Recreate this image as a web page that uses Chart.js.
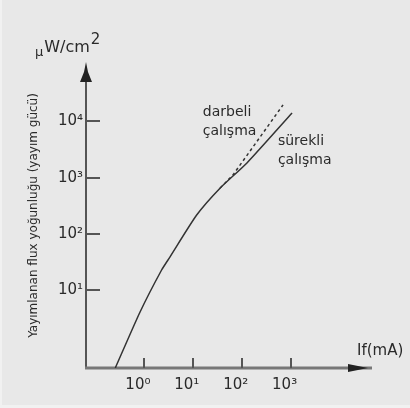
<!DOCTYPE html>
<html>
<head>
<meta charset="utf-8">
<script src="https://cdn.jsdelivr.net/npm/chart.js@4"></script>
<style>
  html, body { margin: 0; padding: 0; background: #e8e8e8; }
  canvas { display: block; }
</style>
</head>
<body>
<canvas id="flux-chart" width="410" height="408"></canvas>
<script>
// If (mA) vs radiated flux density, both log scales

let xTicks = [1, 10, 100, 1000];
let yTicks = [10, 100, 1000, 10000];

// sürekli çalışma (continuous, solid)
let contX = [0.26, 0.83, 2.3, 3.4, 12, 36, 128, 1070];
let contY = [0.42, 4.1, 23, 39, 217, 650, 1820, 14000];

// darbeli çalışma (pulsed, dashed)
let pulseX = [36, 66, 700];
let pulseY = [650, 1110, 19500];

const SUP = ['⁰', '¹', '²', '³', '⁴'];
const FONT = 'DejaVu Sans';
const INK = '#2a2a2a';

function pts(xs, ys) {
    return xs.map((v, i) => ({ x: v, y: ys[i] }));
}

function powLabel(v) {
    return '10' + SUP[Math.round(Math.log10(v))];
}

// free text on the drawing, anchored to data values
let notes = [
    { text: 'darbeli', x: 16, y: 14600 },
    { text: 'çalışma', x: 16, y: 6700 },
    { text: 'sürekli', x: 550, y: 4470 },
    { text: 'çalışma', x: 550, y: 2050 }
];

const axesPlugin = {
    id: 'axes',
    beforeDraw(chart) {
        const ctx = chart.ctx;
        ctx.save();
        ctx.fillStyle = '#e8e8e8';
        ctx.fillRect(0, 0, chart.width, chart.height);
        ctx.fillStyle = '#f1f1f1';
        ctx.fillRect(0, 0, 2, chart.height);
        ctx.fillRect(0, chart.height - 3, chart.width, 3);
        ctx.restore();
    },
    beforeDatasetsDraw(chart) {
        const { ctx, chartArea: a, scales: { x, y } } = chart;
        ctx.save();

        // y axis + arrow
        ctx.strokeStyle = '#555';
        ctx.lineWidth = 2;
        ctx.beginPath();
        ctx.moveTo(a.left, a.bottom + 1);
        ctx.lineTo(a.left, a.top + 10);
        ctx.stroke();
        ctx.fillStyle = '#222';
        ctx.beginPath();
        ctx.moveTo(a.left, a.top - 1);
        ctx.lineTo(a.left + 2, a.top + 9);
        ctx.lineTo(a.left + 6, a.top + 19);
        ctx.lineTo(a.left - 6, a.top + 19);
        ctx.lineTo(a.left - 2, a.top + 9);
        ctx.closePath();
        ctx.fill();

        // x axis + arrow
        ctx.strokeStyle = '#777';
        ctx.lineWidth = 3;
        ctx.beginPath();
        ctx.moveTo(a.left - 1, a.bottom);
        ctx.lineTo(a.right + 2, a.bottom);
        ctx.stroke();
        ctx.fillStyle = '#222';
        ctx.beginPath();
        ctx.moveTo(a.right - 2, a.bottom);
        ctx.lineTo(a.right - 22, a.bottom - 4);
        ctx.lineTo(a.right - 22, a.bottom + 4);
        ctx.closePath();
        ctx.fill();

        // tick marks, drawn inside the plot
        ctx.strokeStyle = '#555';
        ctx.lineWidth = 2;
        ctx.beginPath();
        yTicks.forEach(v => {
            const py = Math.round(y.getPixelForValue(v));
            ctx.moveTo(a.left, py);
            ctx.lineTo(a.left + 14, py);
        });
        xTicks.forEach(v => {
            const px = Math.round(x.getPixelForValue(v));
            ctx.moveTo(px, a.bottom);
            ctx.lineTo(px, a.bottom - 10);
        });
        ctx.stroke();
        ctx.restore();
    },
    afterDraw(chart) {
        const { ctx, chartArea: a, scales: { x, y } } = chart;
        ctx.save();
        ctx.fillStyle = INK;
        ctx.textBaseline = 'middle';
        ctx.textAlign = 'left';

        ctx.font = '14px "' + FONT + '"';
        notes.forEach(n => {
            ctx.fillText(n.text, x.getPixelForValue(n.x), y.getPixelForValue(n.y));
        });

        // unit at the top of the y arrow: µ low, W/cm, big raised 2
        ctx.textBaseline = 'alphabetic';
        let ux = a.left - 51, uy = a.top - 9;
        ctx.font = '13px "' + FONT + '"';
        ctx.fillText('μ', ux, uy + 2);
        ux += ctx.measureText('μ').width + 1;
        ctx.font = '16px "' + FONT + '"';
        ctx.fillText('W/cm', ux, uy - 2);
        ux += ctx.measureText('W/cm').width + 1;
        ctx.font = '15px "' + FONT + '"';
        ctx.fillText('2', ux, uy - 10);

        ctx.font = '15px "' + FONT + '"';
        ctx.textBaseline = 'middle';
        ctx.fillText('If(mA)', a.right - 13, a.bottom - 17);
        ctx.restore();
    }
};

let ctx = document.getElementById('flux-chart').getContext('2d');
let fluxChart = new Chart(ctx, {
    type: 'line',
    data: {
        datasets: [{
            label: 'sürekli çalışma',
            data: pts(contX, contY),
            borderColor: '#333',
            borderWidth: 1.5,
            pointRadius: 0,
            tension: 0.2
        }, {
            label: 'darbeli çalışma',
            data: pts(pulseX, pulseY),
            borderColor: '#333',
            borderWidth: 1.5,
            borderDash: [3, 3],
            pointRadius: 0,
            tension: 0
        }]
    },
    options: {
        responsive: false,
        animation: false,
        devicePixelRatio: 1,
        layout: { padding: { top: 63, right: 40, left: 0, bottom: 0 } },
        plugins: {
            legend: { display: false },
            tooltip: { enabled: false }
        },
        scales: {
            x: {
                type: 'logarithmic',
                min: 0.0655,
                max: 42000,
                bounds: 'data',
                afterBuildTicks: s => { s.ticks = xTicks.map(v => ({ value: v })); },
                afterFit: s => { s.height = 40; },
                grid: { display: false, drawTicks: false },
                border: { display: false },
                ticks: {
                    autoSkip: false,
                    maxRotation: 0,
                    padding: 8,
                    labelOffset: -6,
                    color: INK,
                    font: { family: FONT, size: 15 },
                    callback: v => powLabel(v)
                }
            },
            y: {
                type: 'logarithmic',
                min: 0.42,
                max: 108000,
                bounds: 'data',
                afterBuildTicks: s => { s.ticks = yTicks.map(v => ({ value: v })); },
                afterFit: s => { s.width = 86; },
                grid: { display: false, drawTicks: false },
                border: { display: false },
                title: {
                    display: true,
                    text: 'Yayımlanan flux yoğunluğu (yayım gücü)',
                    color: INK,
                    font: { family: FONT, size: 12 },
                    padding: { top: 27, bottom: 0 }
                },
                ticks: {
                    autoSkip: false,
                    padding: 3,
                    color: INK,
                    font: { family: FONT, size: 15 },
                    callback: v => powLabel(v)
                }
            }
        }
    },
    plugins: [axesPlugin]
});
</script>
</body>
</html>
